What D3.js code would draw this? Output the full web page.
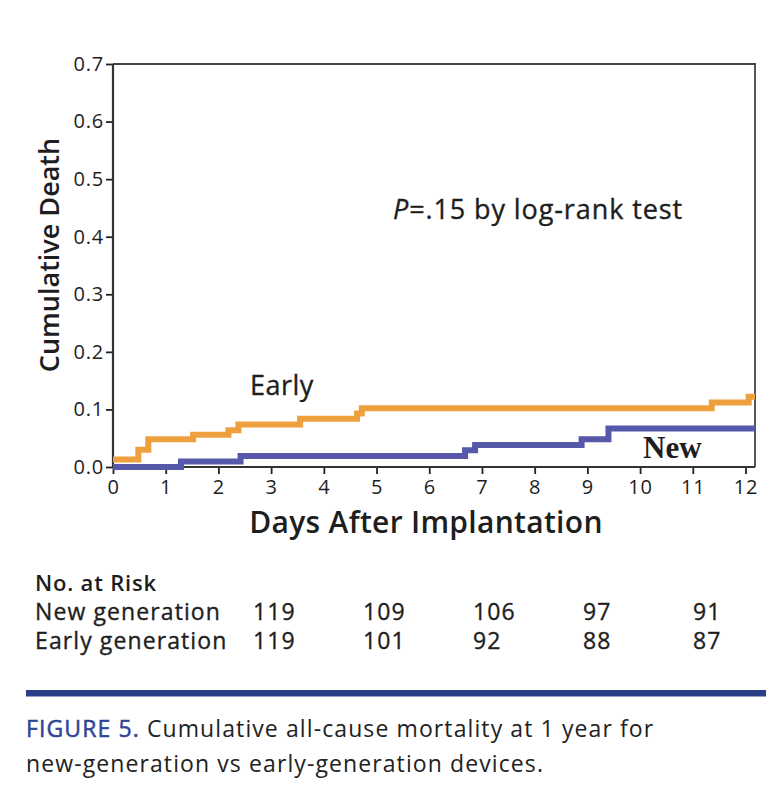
<!DOCTYPE html>
<html>
<head>
<meta charset="utf-8">
<script src="https://cdn.jsdelivr.net/npm/d3@7"></script>
<style>
  body { margin: 0; background: #fff; }
  svg { display: block; font-family: "Open Sans", "DejaVu Sans", sans-serif; }
  .med { stroke: currentColor; stroke-width: 0.35px; }
</style>
</head>
<body>
<div id="chart"></div>
<script>
//data
var earlyTimes  = [0, 0.48, 0.67, 1.52, 2.19, 2.38, 3.55, 4.63, 4.72, 11.36, 12.06, 12.18];
var earlyValues = [0.013, 0.030, 0.048, 0.056, 0.064, 0.074, 0.084, 0.093, 0.102, 0.112, 0.122, 0.122];
var newTimes  = [0, 1.29, 2.42, 6.68, 6.87, 8.89, 9.40, 12.18];
var newValues = [0.0, 0.0095, 0.019, 0.029, 0.038, 0.048, 0.067, 0.067];

var xTicks = [0, 1, 2, 3, 4, 5, 6, 7, 8, 9, 10, 11, 12];
var yTicks = [0, 0.1, 0.2, 0.3, 0.4, 0.5, 0.6, 0.7];

var riskRows = ["New generation", "Early generation"];
var riskNew = [119, 109, 106, 97, 91];
var riskEarly = [119, 101, 92, 88, 87];

//svg size
var svgWidth = 784;
var svgHeight = 802;

//plot box
var plot = { left: 113, right: 755, top: 64, bottom: 467 };

var ink = "#1e1e1e";

var svg = d3.select("#chart")
    .append("svg")
    .attr("width", svgWidth)
    .attr("height", svgHeight)
    .style("color", ink);

//scales
var xScale = d3.scaleLinear()
    .domain([0, 12.18])
    .range([plot.left, plot.right]);

var yScale = d3.scaleLinear()
    .domain([0, 0.7])
    .range([plot.bottom, plot.top]);

//top and right frame lines
svg.append("path")
    .attr("d", `M${plot.left},${plot.top}H${plot.right}V${plot.bottom}`)
    .attr("fill", "none")
    .attr("stroke", "#444")
    .attr("stroke-width", 1.8);

//y axis
var yAxis = svg.append("g")
    .attr("transform", `translate(${plot.left},0)`)
    .call(d3.axisLeft(yScale).tickValues(yTicks).tickFormat(d3.format(".1f")).tickSize(7).tickPadding(2));

//x axis
var xAxis = svg.append("g")
    .attr("transform", `translate(0,${plot.bottom})`)
    .call(d3.axisBottom(xScale).tickValues(xTicks).tickFormat(d3.format("d")).tickSize(7).tickPadding(6));

[xAxis, yAxis].forEach(function(ax) {
    ax.select(".domain").remove();
    ax.selectAll("line").attr("stroke", "#222").attr("stroke-width", 1.8);
    ax.selectAll("text")
        .attr("fill", ink)
        .attr("font-size", "20px")
        .attr("letter-spacing", "0.8px")
        .attr("font-family", "Open Sans, sans-serif");
});

//axis lines
svg.append("path")
    .attr("d", `M${plot.left},${plot.top}V${plot.bottom}H${plot.right}`)
    .attr("fill", "none")
    .attr("stroke", "#333")
    .attr("stroke-width", 2.2);

//step curves
var stepLine = d3.line()
    .x(d => xScale(d[0]))
    .y(d => yScale(d[1]))
    .curve(d3.curveStepAfter);

var earlyData = earlyTimes.map((t, i) => [t, earlyValues[i]]);
var newData = newTimes.map((t, i) => [t, newValues[i]]);

svg.append("path")
    .datum(earlyData)
    .attr("d", stepLine)
    .attr("fill", "none")
    .attr("stroke", "#EFA03E")
    .attr("stroke-width", 6);

svg.append("path")
    .datum(newData)
    .attr("d", stepLine)
    .attr("fill", "none")
    .attr("stroke", "#5659A9")
    .attr("stroke-width", 6);

//curve labels
svg.append("text")
    .classed("med", true)
    .attr("x", 250)
    .attr("y", 395)
    .attr("font-size", "27px")
    .attr("letter-spacing", "0.5px")
    .attr("fill", ink)
    .text("Early");

svg.append("text")
    .attr("x", 643)
    .attr("y", 458)
    .attr("font-family", "Liberation Serif, Times New Roman, serif")
    .attr("font-size", "31px")
    .attr("font-weight", "bold")
    .attr("fill", ink)
    .text("New");

//p value
var pText = svg.append("text")
    .classed("med", true)
    .attr("x", 393)
    .attr("y", 219)
    .attr("font-size", "27px")
    .attr("letter-spacing", "0.9px")
    .attr("fill", ink);
pText.append("tspan").attr("font-style", "italic").text("P");
pText.append("tspan").text("=.15 by log-rank test");

//axis titles
svg.append("text")
    .attr("transform", "translate(59,255) rotate(-90)")
    .attr("text-anchor", "middle")
    .attr("font-size", "27px")
    .attr("font-weight", 600)
    .attr("fill", ink)
    .text("Cumulative Death");

svg.append("text")
    .attr("x", 426)
    .attr("y", 533)
    .attr("text-anchor", "middle")
    .attr("font-size", "30px")
    .attr("font-weight", 600)
    .attr("letter-spacing", "0.3px")
    .attr("fill", ink)
    .text("Days After Implantation");

//number at risk table
svg.append("text")
    .attr("x", 35)
    .attr("y", 591)
    .attr("font-size", "22px")
    .attr("font-weight", 600)
    .attr("letter-spacing", "0.8px")
    .attr("fill", ink)
    .text("No. at Risk");

var colScale = d3.scaleLinear().domain([0, 4]).range([253, 693]);
var rowY = [620, 649];
var riskData = [riskNew, riskEarly];

riskRows.forEach(function(name, r) {
    svg.append("text")
        .classed("med", true)
        .attr("x", 35)
        .attr("y", rowY[r])
        .attr("font-size", "23px")
        .attr("letter-spacing", "1.1px")
        .attr("fill", ink)
        .text(name);

    svg.selectAll(".risk" + r)
        .data(riskData[r])
        .enter()
        .append("text")
        .attr("class", "med risk" + r)
        .attr("x", (d, i) => colScale(i))
        .attr("y", rowY[r])
        .attr("font-size", "23px")
        .attr("letter-spacing", "1.1px")
        .attr("fill", ink)
        .text(d => d);
});

//blue rule
svg.append("rect")
    .attr("x", 26)
    .attr("y", 690)
    .attr("width", 740)
    .attr("height", 6.5)
    .attr("fill", "#2B3F88");

//caption
var cap1 = svg.append("text")
    .attr("x", 26)
    .attr("y", 737)
    .attr("font-size", "23px")
    .attr("letter-spacing", "1.1px")
    .attr("fill", "#222");
cap1.append("tspan").attr("fill", "#2E4596").attr("stroke", "#2E4596").attr("stroke-width", 0.5).text("FIGURE 5.");
cap1.append("tspan").text(" Cumulative all-cause mortality at 1 year for");

svg.append("text")
    .attr("x", 26)
    .attr("y", 772)
    .attr("font-size", "23px")
    .attr("letter-spacing", "1.1px")
    .attr("fill", "#222")
    .text("new-generation vs early-generation devices.");
</script>
</body>
</html>
